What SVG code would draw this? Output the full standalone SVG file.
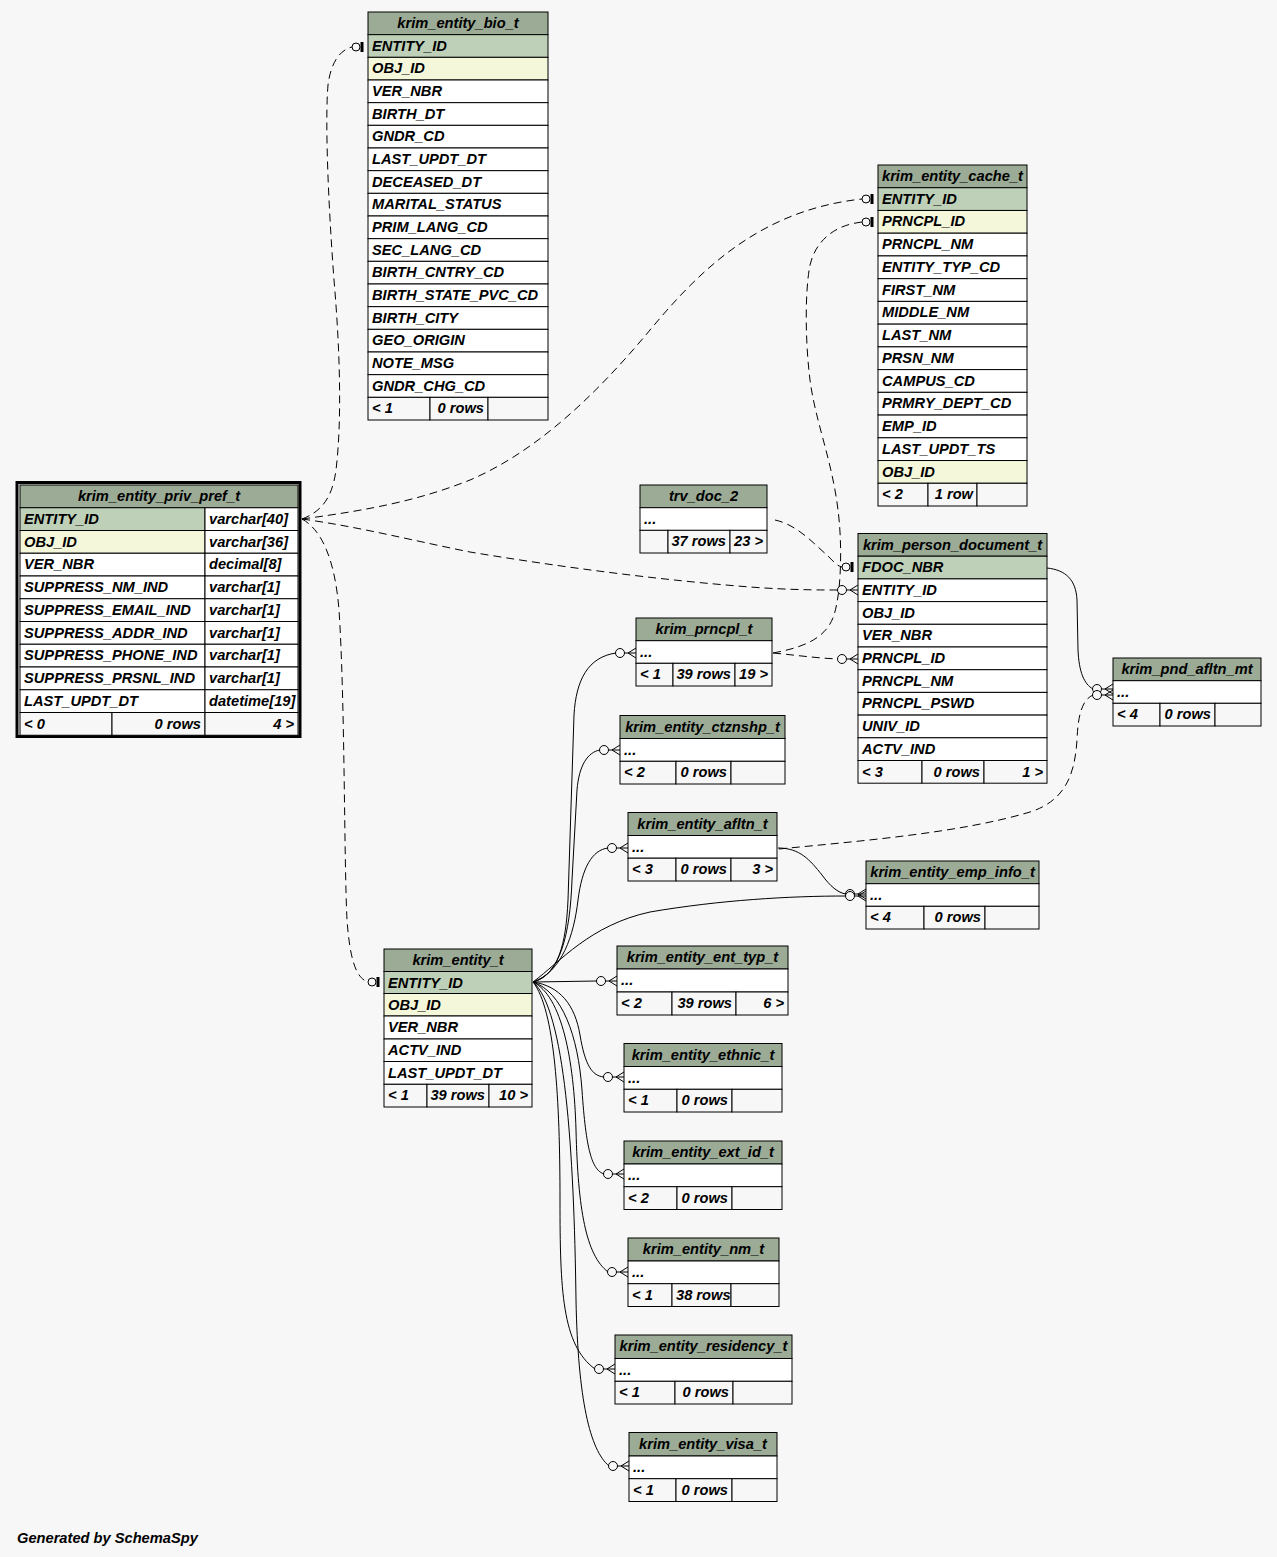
<svg xmlns="http://www.w3.org/2000/svg" width="1277" height="1557" viewBox="0 0 1277 1557">
<style>
.h{fill:#9bab96;stroke:#000;stroke-width:1}
.pk{fill:#bed1b8;stroke:#000;stroke-width:1}
.ix{fill:#f4f7da;stroke:#000;stroke-width:1}
.r{fill:#fff;stroke:#000;stroke-width:1}
.f{fill:#f7f7f7;stroke:#000;stroke-width:1}
text{font-family:"Liberation Sans",Arial,Helvetica,sans-serif;font-weight:bold;font-style:italic;font-size:14.67px;fill:#000}
.c{text-anchor:middle}
.e{text-anchor:end}
.s{fill:none;stroke:#000;stroke-width:1}
.d{fill:none;stroke:#000;stroke-width:1;stroke-dasharray:8,5}
.mk{fill:#f7f7f7;stroke:#000;stroke-width:1}
</style>
<defs>
<g id="tee"><circle cx="-12" cy="0" r="4" class="mk"/><rect x="-7.5" y="-5" width="3" height="10" fill="#000"/></g>
<g id="crow"><circle cx="-16" cy="0" r="4.5" class="mk"/><path class="s" d="M-11.5,0H-8M-8,0L0,-5M-8,0L0,0M-8,0L0,5"/></g>
</defs>
<rect width="1277" height="1557" fill="#f7f7f7"/>

<g id="connectors">
<path class="d" d="M302,519 C320,512 332,500 336,470 C342,420 340,350 334,280 C328,200 325,120 328,85 C331,62 340,50 352,47"/>
<path class="d" d="M302,519 C370,510 420,500 470,480 C540,450 600,390 650,330 C700,270 760,210 862,199"/>
<path class="d" d="M302,519 C360,527 410,540 470,552 C560,567 660,580 750,587 C790,590 820,590 838,590"/>
<path class="d" d="M302,519 C322,530 335,560 339,610 C345,700 344,860 347,920 C350,960 356,978 368,982"/>
<path class="d" d="M775,520 C798,525 815,545 828,556 C833,561 837,566 842,567"/>
<path class="d" d="M773,653 C800,648 826,640 834,615 C842,590 842,540 838,510 C832,460 815,420 810,380 C805,340 805,290 810,265 C816,240 835,225 862,222"/>
<path class="d" d="M773,653 C795,655 815,658 838,659"/>
<path class="s" d="M1047,568 C1066,570 1076,580 1077,600 L1078,650 C1079,672 1084,684 1093,689"/>
<path class="d" d="M779,849 C860,841 960,833 1030,812 C1068,800 1075,770 1077,740 C1078,715 1082,700 1093,695"/>
<path class="s" d="M778,848 C800,848 810,860 822,875 C830,886 838,893 846,894"/>
<path class="s" d="M533,982 C558,975 566,945 568,900 L574,715 C576,680 588,657 616,653"/>
<path class="s" d="M533,982 C560,975 570,935 572,880 L577,790 C579,765 588,752 600,750"/>
<path class="s" d="M533,982 C562,972 574,935 578,900 C582,868 592,850 608,848"/>
<path class="s" d="M533,982 C560,962 590,925 650,912 C720,900 790,896 846,896"/>
<path class="s" d="M533,982 L597,981"/>
<path class="s" d="M533,982 C560,986 575,1005 580,1035 C585,1065 592,1076 604,1077"/>
<path class="s" d="M533,982 C562,992 578,1035 582,1090 C586,1150 592,1170 604,1174"/>
<path class="s" d="M533,982 C562,996 574,1060 576,1130 C578,1210 586,1255 608,1272"/>
<path class="s" d="M533,982 C555,1010 560,1100 560,1200 C560,1290 562,1345 595,1369"/>
<path class="s" d="M533,982 C565,1010 574,1150 576,1300 C578,1400 590,1450 609,1466"/>
<use href="#tee" x="368" y="47"/>
<use href="#tee" x="878" y="199"/>
<use href="#tee" x="878" y="222"/>
<use href="#tee" x="384" y="982"/>
<use href="#tee" x="858" y="567"/>
<use href="#crow" x="858" y="590"/>
<use href="#crow" x="858" y="659"/>
<use href="#crow" x="1113" y="689"/>
<use href="#crow" x="1113" y="695"/>
<use href="#crow" x="866" y="894"/>
<use href="#crow" x="866" y="896"/>
<use href="#crow" x="636" y="653"/>
<use href="#crow" x="620" y="750"/>
<use href="#crow" x="628" y="848"/>
<use href="#crow" x="617" y="981"/>
<use href="#crow" x="624" y="1077"/>
<use href="#crow" x="624" y="1174"/>
<use href="#crow" x="628" y="1272"/>
<use href="#crow" x="615" y="1369"/>
<use href="#crow" x="629" y="1466"/>
</g>

<g id="krim_entity_bio_t">
<rect class="h" x="368" y="12" width="180" height="22.67"/><text class="c" x="458" y="28">krim_entity_bio_t</text>
<rect class="pk" x="368" y="34.67" width="180" height="22.67"/><text x="372" y="50.67">ENTITY_ID</text>
<rect class="ix" x="368" y="57.33" width="180" height="22.67"/><text x="372" y="73.33">OBJ_ID</text>
<rect class="r" x="368" y="80" width="180" height="22.67"/><text x="372" y="96">VER_NBR</text>
<rect class="r" x="368" y="102.67" width="180" height="22.67"/><text x="372" y="118.67">BIRTH_DT</text>
<rect class="r" x="368" y="125.33" width="180" height="22.67"/><text x="372" y="141.33">GNDR_CD</text>
<rect class="r" x="368" y="148" width="180" height="22.67"/><text x="372" y="164">LAST_UPDT_DT</text>
<rect class="r" x="368" y="170.67" width="180" height="22.67"/><text x="372" y="186.67">DECEASED_DT</text>
<rect class="r" x="368" y="193.33" width="180" height="22.67"/><text x="372" y="209.33">MARITAL_STATUS</text>
<rect class="r" x="368" y="216" width="180" height="22.67"/><text x="372" y="232">PRIM_LANG_CD</text>
<rect class="r" x="368" y="238.67" width="180" height="22.67"/><text x="372" y="254.67">SEC_LANG_CD</text>
<rect class="r" x="368" y="261.33" width="180" height="22.67"/><text x="372" y="277.33">BIRTH_CNTRY_CD</text>
<rect class="r" x="368" y="284" width="180" height="22.67"/><text x="372" y="300">BIRTH_STATE_PVC_CD</text>
<rect class="r" x="368" y="306.67" width="180" height="22.67"/><text x="372" y="322.67">BIRTH_CITY</text>
<rect class="r" x="368" y="329.33" width="180" height="22.67"/><text x="372" y="345.33">GEO_ORIGIN</text>
<rect class="r" x="368" y="352" width="180" height="22.67"/><text x="372" y="368">NOTE_MSG</text>
<rect class="r" x="368" y="374.67" width="180" height="22.67"/><text x="372" y="390.67">GNDR_CHG_CD</text>
<rect class="f" x="368" y="397.33" width="62" height="22.67"/><rect class="f" x="430" y="397.33" width="58" height="22.67"/><rect class="f" x="488" y="397.33" width="60" height="22.67"/>
<text x="372" y="413.33">&lt; 1</text><text class="e" x="484" y="413.33">0 rows</text>
</g>

<g id="krim_entity_cache_t">
<rect class="h" x="878" y="165" width="149" height="22.73"/><text class="c" x="952.5" y="181">krim_entity_cache_t</text>
<rect class="pk" x="878" y="187.73" width="149" height="22.73"/><text x="882" y="203.73">ENTITY_ID</text>
<rect class="ix" x="878" y="210.47" width="149" height="22.73"/><text x="882" y="226.47">PRNCPL_ID</text>
<rect class="r" x="878" y="233.2" width="149" height="22.73"/><text x="882" y="249.2">PRNCPL_NM</text>
<rect class="r" x="878" y="255.93" width="149" height="22.73"/><text x="882" y="271.93">ENTITY_TYP_CD</text>
<rect class="r" x="878" y="278.67" width="149" height="22.73"/><text x="882" y="294.67">FIRST_NM</text>
<rect class="r" x="878" y="301.4" width="149" height="22.73"/><text x="882" y="317.4">MIDDLE_NM</text>
<rect class="r" x="878" y="324.13" width="149" height="22.73"/><text x="882" y="340.13">LAST_NM</text>
<rect class="r" x="878" y="346.87" width="149" height="22.73"/><text x="882" y="362.87">PRSN_NM</text>
<rect class="r" x="878" y="369.6" width="149" height="22.73"/><text x="882" y="385.6">CAMPUS_CD</text>
<rect class="r" x="878" y="392.33" width="149" height="22.73"/><text x="882" y="408.33">PRMRY_DEPT_CD</text>
<rect class="r" x="878" y="415.07" width="149" height="22.73"/><text x="882" y="431.07">EMP_ID</text>
<rect class="r" x="878" y="437.8" width="149" height="22.73"/><text x="882" y="453.8">LAST_UPDT_TS</text>
<rect class="ix" x="878" y="460.53" width="149" height="22.73"/><text x="882" y="476.53">OBJ_ID</text>
<rect class="f" x="878" y="483.27" width="50" height="22.73"/><rect class="f" x="928" y="483.27" width="49" height="22.73"/><rect class="f" x="977" y="483.27" width="50" height="22.73"/>
<text x="882" y="499.27">&lt; 2</text><text class="e" x="973" y="499.27">1 row</text>
</g>

<g id="krim_entity_priv_pref_t">
<rect x="17" y="482.5" width="283" height="254" fill="none" stroke="#000" stroke-width="3"/>
<rect class="h" x="20" y="485" width="278" height="22.75"/><text class="c" x="159" y="501">krim_entity_priv_pref_t</text>
<rect class="pk" x="20" y="507.75" width="185" height="22.75"/><rect class="r" x="205" y="507.75" width="93" height="22.75"/><text x="24" y="523.75">ENTITY_ID</text><text x="209" y="523.75">varchar[40]</text>
<rect class="ix" x="20" y="530.5" width="185" height="22.75"/><rect class="r" x="205" y="530.5" width="93" height="22.75"/><text x="24" y="546.5">OBJ_ID</text><text x="209" y="546.5">varchar[36]</text>
<rect class="r" x="20" y="553.25" width="185" height="22.75"/><rect class="r" x="205" y="553.25" width="93" height="22.75"/><text x="24" y="569.25">VER_NBR</text><text x="209" y="569.25">decimal[8]</text>
<rect class="r" x="20" y="576" width="185" height="22.75"/><rect class="r" x="205" y="576" width="93" height="22.75"/><text x="24" y="592">SUPPRESS_NM_IND</text><text x="209" y="592">varchar[1]</text>
<rect class="r" x="20" y="598.75" width="185" height="22.75"/><rect class="r" x="205" y="598.75" width="93" height="22.75"/><text x="24" y="614.75">SUPPRESS_EMAIL_IND</text><text x="209" y="614.75">varchar[1]</text>
<rect class="r" x="20" y="621.5" width="185" height="22.75"/><rect class="r" x="205" y="621.5" width="93" height="22.75"/><text x="24" y="637.5">SUPPRESS_ADDR_IND</text><text x="209" y="637.5">varchar[1]</text>
<rect class="r" x="20" y="644.25" width="185" height="22.75"/><rect class="r" x="205" y="644.25" width="93" height="22.75"/><text x="24" y="660.25">SUPPRESS_PHONE_IND</text><text x="209" y="660.25">varchar[1]</text>
<rect class="r" x="20" y="667" width="185" height="22.75"/><rect class="r" x="205" y="667" width="93" height="22.75"/><text x="24" y="683">SUPPRESS_PRSNL_IND</text><text x="209" y="683">varchar[1]</text>
<rect class="r" x="20" y="689.75" width="185" height="22.75"/><rect class="r" x="205" y="689.75" width="93" height="22.75"/><text x="24" y="705.75">LAST_UPDT_DT</text><text x="209" y="705.75">datetime[19]</text>
<rect class="f" x="20" y="712.5" width="92" height="22.75"/><rect class="f" x="112" y="712.5" width="93" height="22.75"/><rect class="f" x="205" y="712.5" width="93" height="22.75"/>
<text x="24" y="728.5">&lt; 0</text><text class="e" x="201" y="728.5">0 rows</text><text class="e" x="294" y="728.5">4 &gt;</text>
</g>

<g id="trv_doc_2">
<rect class="h" x="640" y="485" width="127" height="22.7"/><text class="c" x="703.5" y="501">trv_doc_2</text>
<rect class="r" x="640" y="507.7" width="127" height="22.7"/><text x="644" y="523.7">...</text>
<rect class="f" x="640" y="530.3" width="28" height="22.7"/><rect class="f" x="668" y="530.3" width="62" height="22.7"/><rect class="f" x="730" y="530.3" width="37" height="22.7"/>
<text class="e" x="726" y="546.3">37 rows</text><text class="e" x="763" y="546.3">23 &gt;</text>
</g>

<g id="krim_person_document_t">
<rect class="h" x="858" y="533.5" width="189" height="22.7"/><text class="c" x="952.5" y="549.5">krim_person_document_t</text>
<rect class="pk" x="858" y="556.2" width="189" height="22.7"/><text x="862" y="572.2">FDOC_NBR</text>
<rect class="r" x="858" y="578.9" width="189" height="22.7"/><text x="862" y="594.9">ENTITY_ID</text>
<rect class="r" x="858" y="601.6" width="189" height="22.7"/><text x="862" y="617.6">OBJ_ID</text>
<rect class="r" x="858" y="624.3" width="189" height="22.7"/><text x="862" y="640.3">VER_NBR</text>
<rect class="r" x="858" y="647" width="189" height="22.7"/><text x="862" y="663">PRNCPL_ID</text>
<rect class="r" x="858" y="669.7" width="189" height="22.7"/><text x="862" y="685.7">PRNCPL_NM</text>
<rect class="r" x="858" y="692.4" width="189" height="22.7"/><text x="862" y="708.4">PRNCPL_PSWD</text>
<rect class="r" x="858" y="715.1" width="189" height="22.7"/><text x="862" y="731.1">UNIV_ID</text>
<rect class="r" x="858" y="737.8" width="189" height="22.7"/><text x="862" y="753.8">ACTV_IND</text>
<rect class="f" x="858" y="760.5" width="64" height="22.7"/><rect class="f" x="922" y="760.5" width="62" height="22.7"/><rect class="f" x="984" y="760.5" width="63" height="22.7"/>
<text x="862" y="776.5">&lt; 3</text><text class="e" x="980" y="776.5">0 rows</text><text class="e" x="1043" y="776.5">1 &gt;</text>
</g>

<g id="krim_prncpl_t">
<rect class="h" x="636" y="618" width="136" height="22.7"/><text class="c" x="704" y="634">krim_prncpl_t</text>
<rect class="r" x="636" y="640.7" width="136" height="22.6"/><text x="640" y="656.7">...</text>
<rect class="f" x="636" y="663.3" width="37" height="22.7"/><rect class="f" x="673" y="663.3" width="62" height="22.7"/><rect class="f" x="735" y="663.3" width="37" height="22.7"/>
<text x="640" y="679.3">&lt; 1</text><text class="e" x="731" y="679.3">39 rows</text><text class="e" x="768" y="679.3">19 &gt;</text>
</g>

<g id="krim_pnd_afltn_mt">
<rect class="h" x="1113" y="658" width="148" height="22.7"/><text class="c" x="1187" y="674">krim_pnd_afltn_mt</text>
<rect class="r" x="1113" y="680.7" width="148" height="22.6"/><text x="1117" y="696.7">...</text>
<rect class="f" x="1113" y="703.3" width="47" height="22.7"/><rect class="f" x="1160" y="703.3" width="55" height="22.7"/><rect class="f" x="1215" y="703.3" width="46" height="22.7"/>
<text x="1117" y="719.3">&lt; 4</text><text class="e" x="1211" y="719.3">0 rows</text>
</g>

<g id="krim_entity_ctznshp_t">
<rect class="h" x="620" y="715.5" width="165" height="23"/><text class="c" x="702.5" y="731.5">krim_entity_ctznshp_t</text>
<rect class="r" x="620" y="738.5" width="165" height="22.8"/><text x="624" y="754.5">...</text>
<rect class="f" x="620" y="761.3" width="56" height="22.7"/><rect class="f" x="676" y="761.3" width="55" height="22.7"/><rect class="f" x="731" y="761.3" width="54" height="22.7"/>
<text x="624" y="777.3">&lt; 2</text><text class="e" x="727" y="777.3">0 rows</text>
</g>

<g id="krim_entity_afltn_t">
<rect class="h" x="628" y="812.5" width="149" height="23"/><text class="c" x="702.5" y="828.5">krim_entity_afltn_t</text>
<rect class="r" x="628" y="835.5" width="149" height="22.7"/><text x="632" y="851.5">...</text>
<rect class="f" x="628" y="858.2" width="48" height="22.8"/><rect class="f" x="676" y="858.2" width="55" height="22.8"/><rect class="f" x="731" y="858.2" width="46" height="22.8"/>
<text x="632" y="874.2">&lt; 3</text><text class="e" x="727" y="874.2">0 rows</text><text class="e" x="773" y="874.2">3 &gt;</text>
</g>

<g id="krim_entity_emp_info_t">
<rect class="h" x="866" y="861" width="173" height="22.7"/><text class="c" x="952.5" y="877">krim_entity_emp_info_t</text>
<rect class="r" x="866" y="883.7" width="173" height="22.6"/><text x="870" y="899.7">...</text>
<rect class="f" x="866" y="906.3" width="58" height="22.7"/><rect class="f" x="924" y="906.3" width="61" height="22.7"/><rect class="f" x="985" y="906.3" width="54" height="22.7"/>
<text x="870" y="922.3">&lt; 4</text><text class="e" x="981" y="922.3">0 rows</text>
</g>

<g id="krim_entity_t">
<rect class="h" x="384" y="949" width="148" height="22.5"/><text class="c" x="458" y="965">krim_entity_t</text>
<rect class="pk" x="384" y="971.5" width="148" height="22"/><text x="388" y="987.5">ENTITY_ID</text>
<rect class="ix" x="384" y="993.5" width="148" height="22.5"/><text x="388" y="1009.5">OBJ_ID</text>
<rect class="r" x="384" y="1016" width="148" height="23"/><text x="388" y="1032">VER_NBR</text>
<rect class="r" x="384" y="1039" width="148" height="22.5"/><text x="388" y="1055">ACTV_IND</text>
<rect class="r" x="384" y="1061.5" width="148" height="22.8"/><text x="388" y="1077.5">LAST_UPDT_DT</text>
<rect class="f" x="384" y="1084.3" width="43" height="22.7"/><rect class="f" x="427" y="1084.3" width="62" height="22.7"/><rect class="f" x="489" y="1084.3" width="43" height="22.7"/>
<text x="388" y="1100.3">&lt; 1</text><text class="e" x="485" y="1100.3">39 rows</text><text class="e" x="528" y="1100.3">10 &gt;</text>
</g>

<g id="krim_entity_ent_typ_t">
<rect class="h" x="617" y="946" width="171" height="23"/><text class="c" x="702.5" y="962">krim_entity_ent_typ_t</text>
<rect class="r" x="617" y="969" width="171" height="23"/><text x="621" y="985">...</text>
<rect class="f" x="617" y="992" width="55" height="23"/><rect class="f" x="672" y="992" width="64" height="23"/><rect class="f" x="736" y="992" width="52" height="23"/>
<text x="621" y="1008">&lt; 2</text><text class="e" x="732" y="1008">39 rows</text><text class="e" x="784" y="1008">6 &gt;</text>
</g>

<g id="krim_entity_ethnic_t">
<rect class="h" x="624" y="1043.5" width="158" height="23"/><text class="c" x="703" y="1059.5">krim_entity_ethnic_t</text>
<rect class="r" x="624" y="1066.5" width="158" height="22.8"/><text x="628" y="1082.5">...</text>
<rect class="f" x="624" y="1089.3" width="53" height="22.7"/><rect class="f" x="677" y="1089.3" width="55" height="22.7"/><rect class="f" x="732" y="1089.3" width="50" height="22.7"/>
<text x="628" y="1105.3">&lt; 1</text><text class="e" x="728" y="1105.3">0 rows</text>
</g>

<g id="krim_entity_ext_id_t">
<rect class="h" x="624" y="1141" width="158" height="23"/><text class="c" x="703" y="1157">krim_entity_ext_id_t</text>
<rect class="r" x="624" y="1164" width="158" height="22.7"/><text x="628" y="1180">...</text>
<rect class="f" x="624" y="1186.7" width="53" height="22.8"/><rect class="f" x="677" y="1186.7" width="55" height="22.8"/><rect class="f" x="732" y="1186.7" width="50" height="22.8"/>
<text x="628" y="1202.7">&lt; 2</text><text class="e" x="728" y="1202.7">0 rows</text>
</g>

<g id="krim_entity_nm_t">
<rect class="h" x="628" y="1238" width="151" height="23"/><text class="c" x="703.5" y="1254">krim_entity_nm_t</text>
<rect class="r" x="628" y="1261" width="151" height="22.7"/><text x="632" y="1277">...</text>
<rect class="f" x="628" y="1283.7" width="44" height="22.8"/><rect class="f" x="672" y="1283.7" width="59" height="22.8"/><rect class="f" x="731" y="1283.7" width="48" height="22.8"/>
<text x="632" y="1299.7">&lt; 1</text><text x="676" y="1299.7">38 rows</text>
</g>

<g id="krim_entity_residency_t">
<rect class="h" x="615" y="1335" width="177" height="23.5"/><text class="c" x="703.5" y="1351">krim_entity_residency_t</text>
<rect class="r" x="615" y="1358.5" width="177" height="22.8"/><text x="619" y="1374.5">...</text>
<rect class="f" x="615" y="1381.3" width="60" height="22.7"/><rect class="f" x="675" y="1381.3" width="58" height="22.7"/><rect class="f" x="733" y="1381.3" width="59" height="22.7"/>
<text x="619" y="1397.3">&lt; 1</text><text class="e" x="729" y="1397.3">0 rows</text>
</g>

<g id="krim_entity_visa_t">
<rect class="h" x="629" y="1432.5" width="148" height="23.5"/><text class="c" x="703" y="1448.5">krim_entity_visa_t</text>
<rect class="r" x="629" y="1456" width="148" height="22.7"/><text x="633" y="1472">...</text>
<rect class="f" x="629" y="1478.7" width="47" height="22.8"/><rect class="f" x="676" y="1478.7" width="56" height="22.8"/><rect class="f" x="732" y="1478.7" width="45" height="22.8"/>
<text x="633" y="1494.7">&lt; 1</text><text class="e" x="728" y="1494.7">0 rows</text>
</g>

<text x="17" y="1543">Generated by SchemaSpy</text>
</svg>
